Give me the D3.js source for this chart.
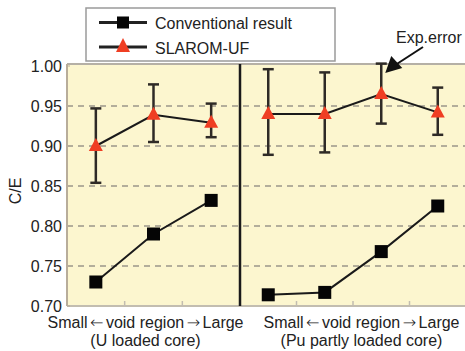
<!DOCTYPE html>
<html>
<head>
<meta charset="utf-8">
<script src="https://cdn.jsdelivr.net/npm/d3@7"></script>
<style>
  html, body { margin: 0; padding: 0; background: #ffffff; }
  svg { display: block; font-family: "Liberation Sans", Arial, Helvetica, sans-serif; }
</style>
</head>
<body>
<svg id="chart" width="465" height="351"></svg>
<script>
// ---- data ----
const catsU = ["U1", "U2", "U3"];
const catsPu = ["P1", "P2", "P3", "P4"];
const convU = [0.730, 0.790, 0.832];
const convPu = [0.714, 0.717, 0.768, 0.825];
const slaromU = [0.900, 0.939, 0.929];
const slaromPu = [0.940, 0.940, 0.965, 0.942];
const errLoU = [0.854, 0.905, 0.911];
const errHiU = [0.947, 0.977, 0.953];
const errLoPu = [0.889, 0.892, 0.928, 0.914];
const errHiPu = [0.996, 0.992, 1.003, 0.973];
const yTicks = [0.70, 0.75, 0.80, 0.85, 0.90, 0.95, 1.00];
const gridTicks = [0.75, 0.80, 0.85, 0.90, 0.95];
const seriesNames = ["Conventional result", "SLAROM-UF"];
const xLabelU = ["Small\u2190void region\u2192Large", "(U loaded core)"];
const xLabelPu = ["Small\u2190void region\u2192Large", "(Pu partly loaded core)"];
const yTitle = "C/E";
const annot = "Exp.error";

(function () {
// ---- layout ----
const svg = d3.select("#chart");
const pL = 67, pM = 240, pR = 466, pT = 64, pB = 306;
const y = d3.scaleLinear().domain([0.70, 1.00]).range([306, 66]);
const xU = d3.scaleBand().domain(catsU).range([pL, pM]);
const xPu = d3.scaleBand().domain(catsPu).range([pM, pR]);
const cx = (sc, c) => sc(c) + sc.bandwidth() / 2;

// background
svg.append("rect").attr("x", pL).attr("y", pT).attr("width", pR - pL).attr("height", pB - pT)
  .attr("fill", "#fcf6cf");

// gridlines
svg.append("g").selectAll("line").data(gridTicks).join("line")
  .attr("x1", pL).attr("x2", pR)
  .attr("y1", d => y(d)).attr("y2", d => y(d))
  .attr("stroke", "#9a968a").attr("stroke-width", 1.5).attr("stroke-dasharray", "6,5");

// border lines
svg.append("line").attr("x1", pL).attr("x2", pR).attr("y1", pT).attr("y2", pT)
  .attr("stroke", "#b5b0a6").attr("stroke-width", 2);
svg.append("line").attr("x1", pL).attr("x2", pR).attr("y1", pB).attr("y2", pB)
  .attr("stroke", "#c2bdb0").attr("stroke-width", 2);
svg.append("line").attr("x1", pL).attr("x2", pL).attr("y1", pT).attr("y2", pB)
  .attr("stroke", "#b8ad9a").attr("stroke-width", 2);

// bottom minor ticks at band boundaries
const tickXs = catsU.slice(1).map(c => xU(c)).concat(catsPu.slice(1).map(c => xPu(c)));
svg.append("g").selectAll("line").data(tickXs).join("line")
  .attr("x1", d => d).attr("x2", d => d).attr("y1", pB).attr("y2", pB - 5)
  .attr("stroke", "#c2bdb0").attr("stroke-width", 1.5);

// left axis ticks + labels
const yAxis = svg.append("g");
yAxis.selectAll("line").data(yTicks).join("line")
  .attr("x1", pL).attr("x2", pL + 3).attr("y1", d => y(d)).attr("y2", d => y(d))
  .attr("stroke", "#b8ad9a").attr("stroke-width", 1);
yAxis.selectAll("text").data(yTicks).join("text")
  .attr("x", 62).attr("y", d => y(d)).attr("dy", "0.36em")
  .attr("text-anchor", "end").attr("font-size", 16).attr("fill", "#222")
  .text(d => d3.format(".2f")(d));

svg.append("text").attr("transform", "translate(21,191) rotate(-90)")
  .attr("text-anchor", "middle").attr("font-size", 16).attr("fill", "#222").text(yTitle);

// divider
svg.append("line").attr("x1", pM).attr("x2", pM).attr("y1", pT).attr("y2", pB)
  .attr("stroke", "#1a1a1a").attr("stroke-width", 2.5);

// draw a panel
function panel(sc, cats, conv, slarom, lo, hi) {
  const g = svg.append("g");
  const line = d3.line().x((d, i) => cx(sc, cats[i])).y(d => y(d));
  cats.forEach((c, i) => {
    const xx = cx(sc, c);
    g.append("line").attr("x1", xx).attr("x2", xx).attr("y1", y(lo[i])).attr("y2", y(hi[i]))
      .attr("stroke", "#2e2a26").attr("stroke-width", 2.5);
    [lo[i], hi[i]].forEach(v => {
      g.append("line").attr("x1", xx - 5.5).attr("x2", xx + 5.5).attr("y1", y(v)).attr("y2", y(v))
        .attr("stroke", "#2e2a26").attr("stroke-width", 2.5);
    });
  });
  g.append("path").datum(slarom).attr("d", line).attr("fill", "none")
    .attr("stroke", "#1a1a1a").attr("stroke-width", 2);
  g.append("path").datum(conv).attr("d", line).attr("fill", "none")
    .attr("stroke", "#1a1a1a").attr("stroke-width", 2);
  g.selectAll("rect.sq").data(conv).join("rect").attr("class", "sq")
    .attr("x", (d, i) => cx(sc, cats[i]) - 6.5).attr("y", d => y(d) - 6.5)
    .attr("width", 13).attr("height", 13).attr("fill", "#050505");
  g.selectAll("path.tri").data(slarom).join("path").attr("class", "tri")
    .attr("d", (d, i) => {
      const xx = cx(sc, cats[i]), yy = y(d);
      return `M${xx},${yy - 8}L${xx + 7},${yy + 5}L${xx - 7},${yy + 5}Z`;
    })
    .attr("fill", "#ef3e23");
}
panel(xU, catsU, convU, slaromU, errLoU, errHiU);
panel(xPu, catsPu, convPu, slaromPu, errLoPu, errHiPu);

// x labels (arrows rendered in DejaVu Sans for longer glyphs)
function xLabel(lines, cxPos) {
  lines.forEach((t, i) => {
    const txt = svg.append("text").attr("x", cxPos).attr("y", i === 0 ? 328 : 346)
      .attr("text-anchor", "middle").attr("font-size", 16).attr("fill", "#222");
    let afterArrow = false;
    t.split(/([\u2190\u2192])/).forEach(part => {
      if (!part) return;
      const ts = txt.append("tspan").text(part);
      if (part === "\u2190" || part === "\u2192") {
        ts.attr("font-family", "DejaVu Sans").attr("font-weight", 200).attr("dx", 2.5);
        afterArrow = true;
      } else if (afterArrow) {
        ts.attr("dx", 2.5);
        afterArrow = false;
      }
    });
  });
}
xLabel(xLabelU, 145.5);
xLabel(xLabelPu, 361.5);

// legend
const lg = svg.append("g");
lg.append("rect").attr("x", 86).attr("y", 8).attr("width", 249).attr("height", 53)
  .attr("fill", "#ffffff").attr("stroke", "#9a9a9a").attr("stroke-width", 1.5);
[22.5, 47].forEach((ly, i) => {
  lg.append("line").attr("x1", 99).attr("x2", 147).attr("y1", ly).attr("y2", ly)
    .attr("stroke", "#222").attr("stroke-width", 3);
  if (i === 0) {
    lg.append("rect").attr("x", 117).attr("y", ly - 6).attr("width", 12).attr("height", 12).attr("fill", "#050505");
  } else {
    lg.append("path").attr("d", `M123,${ly - 9}L130,${ly + 5}L116,${ly + 5}Z`).attr("fill", "#ef3e23");
  }
  lg.append("text").attr("x", 155).attr("y", i === 0 ? 29 : 54)
    .attr("font-size", 16).attr("fill", "#222").text(seriesNames[i]);
});

// annotation
svg.append("text").attr("x", 396).attr("y", 43).attr("font-size", 16).attr("fill", "#222").text(annot);
const tipX = cx(xPu, catsPu[2]) + 4, tipY = y(1.00) + 7;
svg.append("line").attr("x1", 423).attr("y1", 47).attr("x2", tipX + 10).attr("y2", tipY - 8)
  .attr("stroke", "#111").attr("stroke-width", 2);
svg.append("path")
  .attr("d", `M${tipX},${tipY}L${tipX + 6},${tipY - 17}L${tipX + 17},${tipY - 5}Z`)
  .attr("fill", "#111");
})();
</script>
</body>
</html>
